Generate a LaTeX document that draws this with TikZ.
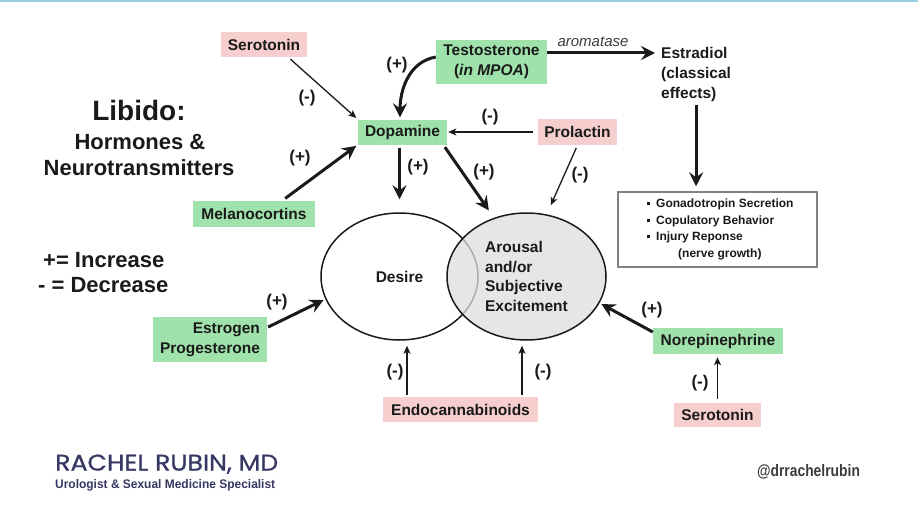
\documentclass[tikz,border=0pt]{standalone}
\usepackage{fontspec}
\setmainfont{Liberation Sans}
\newfontfamily\popfont[FakeBold=0.8]{Poppins}
\usetikzlibrary{arrows.meta,shapes.geometric}
\definecolor{boxgreen}{RGB}{160,226,172}
\definecolor{boxpink}{RGB}{247,206,206}
\definecolor{inkc}{RGB}{26,26,26}
\definecolor{ellgray}{RGB}{222,222,222}
\definecolor{navyc}{RGB}{55,55,100}
\definecolor{toplinec}{RGB}{150,205,225}
\definecolor{effborder}{RGB}{130,130,130}
\newcommand\effbullet{\rule[2.5pt]{3pt}{3pt}\hspace{6pt}}
\tikzset{
  every node/.style={text=inkc},
  boxtext/.style={font=\fontsize{15.5}{20}\selectfont\bfseries},
  gbox/.style={boxtext, fill=boxgreen, inner sep=0pt},
  pbox/.style={boxtext, fill=boxpink, inner sep=0pt},
  lbl/.style={font=\fontsize{17}{17}\selectfont\bfseries, inner sep=0pt},
  thickarr/.style={line width=3pt, draw=inkc, -{Stealth[length=14pt,width=14pt,inset=5pt]}},
  thinarr/.style={line width=1.3pt, draw=inkc, -{Stealth[length=8pt,width=7pt,inset=2pt]}},
  ell/.style={ellipse, draw=inkc, line width=1.5pt, inner sep=0pt, boxtext},
}
\begin{document}
\begin{tikzpicture}[x=1pt,y=-1pt]
\fill[white] (0,0) rectangle (918,519);
\useasboundingbox (0,0) rectangle (918,519);
\fill[toplinec] (0,0) rectangle (918,2);

% title and legend
\node[font=\fontsize{28}{28}\selectfont\bfseries, inner sep=0pt] (t1) at (139,110) {Libido:};
\node[font=\fontsize{22}{22}\selectfont\bfseries, inner sep=0pt] (t2) at (140,142) {Hormones \&};
\node[font=\fontsize{22}{22}\selectfont\bfseries, inner sep=0pt] (t3) at (139,168) {Neurotransmitters};
\node[font=\fontsize{22}{22}\selectfont\bfseries, inner sep=0pt, anchor=west] (leg1) at (43,260) {+= Increase};
\node[font=\fontsize{22}{22}\selectfont\bfseries, inner sep=0pt, anchor=west] (leg2) at (38,285) {- = Decrease};

% ellipses
\node[ell, fill=white, minimum width=157pt, minimum height=127pt] (desire) at (399.5,276.5) {Desire};
\node[ell, fill=ellgray, fill opacity=0.75, text opacity=1, minimum width=159pt, minimum height=127pt, align=left, font=\fontsize{15.5}{19.5}\selectfont\bfseries] (arousal) at (526.5,276.5) {Arousal\\and/or\\Subjective\\Excitement};

% boxes
\node[pbox, minimum width=86pt, minimum height=25pt] (ser1) at (264,44.5) {Serotonin};
\node[gbox, minimum width=111pt, minimum height=44pt, align=center] (testo) at (491.5,62) {Testosterone\\(\textit{in MPOA})};
\node[boxtext, inner sep=0pt, anchor=north west, align=left] (estr) at (661,47) {Estradiol\\(classical\\effects)};
\node[font=\fontsize{15}{15}\selectfont\itshape, inner sep=0pt, text=inkc!85] (arom) at (593,42) {aromatase};
\node[gbox, minimum width=89pt, minimum height=25pt] (dopa) at (402.5,132) {Dopamine};
\node[pbox, minimum width=79pt, minimum height=26pt] (prol) at (577.5,132) {Prolactin};
\node[gbox, minimum width=122pt, minimum height=26pt] (mela) at (254,214) {Melanocortins};
\node[gbox, minimum width=114pt, minimum height=45pt, align=right] (estro) at (210,339.5) {Estrogen\\Progesterone};
\node[gbox, minimum width=130pt, minimum height=26pt] (norep) at (718,341) {Norepinephrine};
\node[pbox, minimum width=155pt, minimum height=25pt] (endo) at (460.5,409.5) {Endocannabinoids};
\node[pbox, minimum width=87pt, minimum height=24pt] (ser2) at (717.5,415) {Serotonin};

\node[draw=effborder, line width=1.5pt, fill=white, minimum width=199pt, minimum height=75pt] (effects) at (717.5,229.5) {};
\node[anchor=west, align=left, font=\fontsize{12}{16.5}\selectfont\bfseries, inner sep=0pt] (efftext) at (647,229.5)
  {\effbullet Gonadotropin Secretion\\ \effbullet Copulatory Behavior\\ \effbullet Injury Reponse\\ \hspace*{31pt}(nerve growth)};

% labels
\node[lbl] (l1) at (307,98) {(-)};
\node[lbl] (l2) at (397,65) {(+)};
\node[lbl] (l3) at (490,117) {(-)};
\node[lbl] (l4) at (300,158) {(+)};
\node[lbl] (l5) at (418,167) {(+)};
\node[lbl] (l6) at (484,172) {(+)};
\node[lbl] (l7) at (580,175) {(-)};
\node[lbl] (l8) at (277,302) {(+)};
\node[lbl] (l9) at (395,372) {(-)};
\node[lbl] (l10) at (543,372) {(-)};
\node[lbl] (l11) at (652,310) {(+)};
\node[lbl] (l12) at (700,383) {(-)};

% connectors
\draw[thinarr, shorten <=3pt, shorten >=2pt] ([xshift=-19pt]ser1.south east) -- (dopa.north west);
\draw[thickarr, shorten >=2pt] ([yshift=5pt]testo.west) to[out=190,in=90] ([xshift=-2.5pt]dopa.north);
\draw[thickarr, shorten >=6pt] ([yshift=9pt]testo.east) -- ([yshift=9pt]testo.east -| estr.west);
\draw[thickarr, shorten <=3pt, shorten >=5pt] (estr.south) -- (estr.south |- effects.north);
\draw[thinarr, shorten <=5pt, shorten >=1pt] (prol.west) -- (dopa.east);
\draw[thickarr, shorten <=4pt, shorten >=2pt] ([xshift=28pt]mela.north) -- (dopa.south west);
\draw[thickarr, shorten <=3pt, shorten >=13pt] (dopa.south -| desire.north) -- (desire.north);
\draw[thickarr, shorten <=3pt, shorten >=9pt] ([xshift=-4pt]dopa.south east) -- (arousal.119);
\draw[thinarr, shorten <=3pt, shorten >=10pt] (prol.south) -- (arousal.72);
\draw[thickarr, shorten <=1pt, shorten >=2pt] ([yshift=12pt]estro.east) -- (desire.197);
\draw[thickarr, shorten >=2pt] ([yshift=9pt]norep.west) -- (arousal.-20);
\draw[thinarr, shorten <=2pt, shorten >=5pt] ([xshift=-53.5pt]endo.north) -- ([xshift=-53.5pt]endo.north |- desire.south);
\draw[thinarr, shorten <=2pt, shorten >=5pt] ([xshift=61.5pt]endo.north) -- ([xshift=61.5pt]endo.north |- arousal.south);
\draw[thinarr, shorten <=4pt, shorten >=3pt] (ser2.north) -- (ser2.north |- norep.south);

% footer
\node[anchor=south west, inner sep=0pt, text=navyc] (name) at (55,474) {\resizebox{223pt}{16pt}{\popfont RACHEL RUBIN\vphantom{,}, MD}};
\node[anchor=north west, inner sep=0pt, text=navyc] (subt) at (55,479.5) {\resizebox{220pt}{9pt}{\bfseries Urologist \& Sexual Medicine Specialist}};
\node[inner sep=0pt, text=inkc!85] (handle) at (808.5,472) {\resizebox{103pt}{12pt}{\bfseries @drrachelrubin}};
\end{tikzpicture}
\end{document}
